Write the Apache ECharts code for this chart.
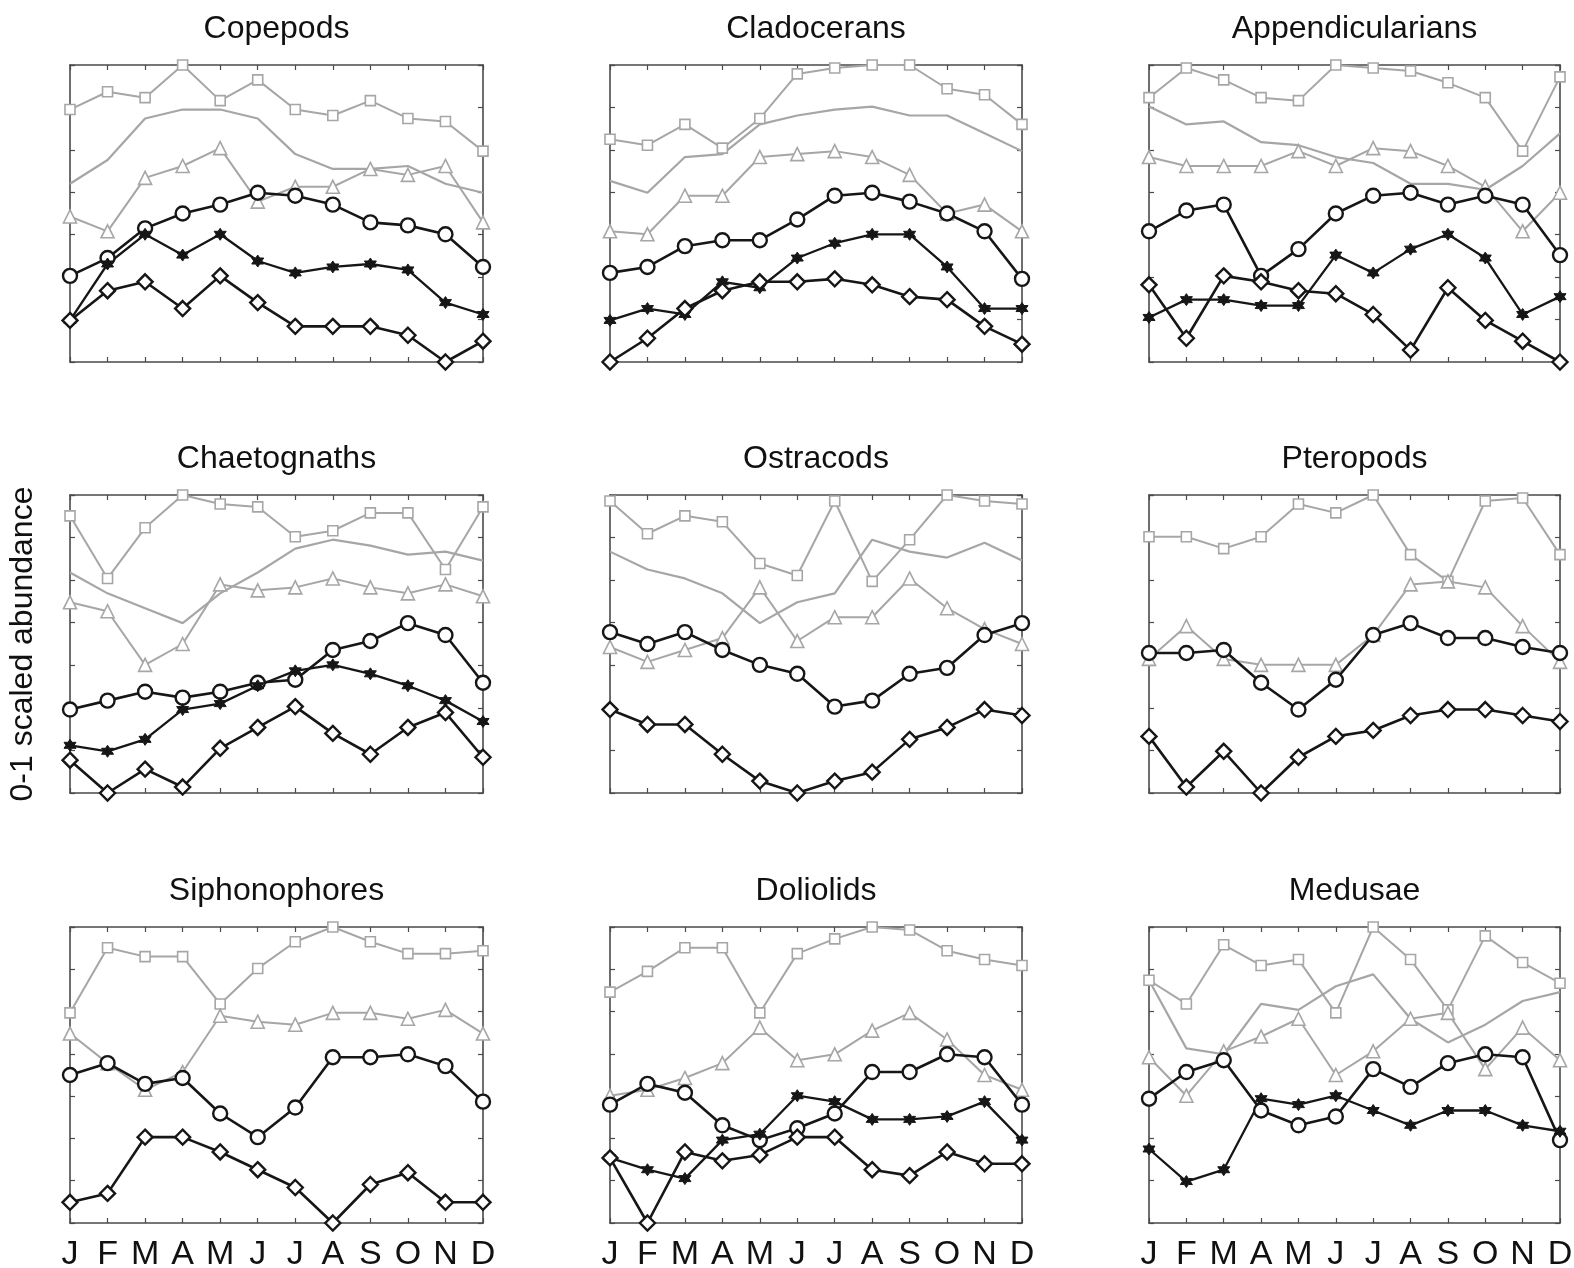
<!DOCTYPE html>
<html>
<head>
<meta charset="utf-8">
<title>Seasonal cycles of zooplankton groups</title>
<script src="https://cdn.jsdelivr.net/npm/echarts@6/dist/echarts.min.js"></script>
<style>
  html, body { margin: 0; padding: 0; background: #fff; }
  #chart { width: 1574px; height: 1268px; }
</style>
</head>
<body>
<div id="chart"></div>
<script>
// Month tick labels
const months = ['J', 'F', 'M', 'A', 'M', 'J', 'J', 'A', 'S', 'O', 'N', 'D'];

// Panel titles, row by row
const groups = ['Copepods', 'Cladocerans', 'Appendicularians',
                'Chaetognaths', 'Ostracods', 'Pteropods',
                'Siphonophores', 'Doliolids', 'Medusae'];

// 0-1 scaled monthly abundance per group and station
// sq = grey squares, tri = grey triangles, ln = grey line,
// ci = black circles, st = black stars, di = black diamonds
const copepodsSq  = [0.85, 0.91, 0.89, 1.00, 0.88, 0.95, 0.85, 0.83, 0.88, 0.82, 0.81, 0.71];
const copepodsLn  = [0.60, 0.68, 0.82, 0.85, 0.85, 0.82, 0.70, 0.65, 0.65, 0.66, 0.60, 0.57];
const copepodsTri = [0.49, 0.44, 0.62, 0.66, 0.72, 0.54, 0.59, 0.59, 0.65, 0.63, 0.66, 0.47];
const copepodsCi  = [0.29, 0.35, 0.45, 0.50, 0.53, 0.57, 0.56, 0.53, 0.47, 0.46, 0.43, 0.32];
const copepodsSt  = [0.14, 0.33, 0.43, 0.36, 0.43, 0.34, 0.30, 0.32, 0.33, 0.31, 0.20, 0.16];
const copepodsDi  = [0.14, 0.24, 0.27, 0.18, 0.29, 0.20, 0.12, 0.12, 0.12, 0.09, 0.00, 0.07];

const cladoSq  = [0.75, 0.73, 0.80, 0.72, 0.82, 0.97, 0.99, 1.00, 1.00, 0.92, 0.90, 0.80];
const cladoLn  = [0.61, 0.57, 0.69, 0.70, 0.80, 0.83, 0.85, 0.86, 0.83, 0.83, 0.77, 0.71];
const cladoTri = [0.44, 0.43, 0.56, 0.56, 0.69, 0.70, 0.71, 0.69, 0.63, 0.50, 0.53, 0.44];
const cladoCi  = [0.30, 0.32, 0.39, 0.41, 0.41, 0.48, 0.56, 0.57, 0.54, 0.50, 0.44, 0.28];
const cladoSt  = [0.14, 0.18, 0.16, 0.27, 0.25, 0.35, 0.40, 0.43, 0.43, 0.32, 0.18, 0.18];
const cladoDi  = [0.00, 0.08, 0.18, 0.24, 0.27, 0.27, 0.28, 0.26, 0.22, 0.21, 0.12, 0.06];

const appendSq  = [0.89, 0.99, 0.95, 0.89, 0.88, 1.00, 0.99, 0.98, 0.94, 0.89, 0.71, 0.96];
const appendLn  = [0.86, 0.80, 0.81, 0.74, 0.73, 0.69, 0.67, 0.60, 0.60, 0.58, 0.66, 0.77];
const appendTri = [0.69, 0.66, 0.66, 0.66, 0.71, 0.66, 0.72, 0.71, 0.66, 0.59, 0.44, 0.57];
const appendCi  = [0.44, 0.51, 0.53, 0.29, 0.38, 0.50, 0.56, 0.57, 0.53, 0.56, 0.53, 0.36];
const appendSt  = [0.15, 0.21, 0.21, 0.19, 0.19, 0.36, 0.30, 0.38, 0.43, 0.35, 0.16, 0.22];
const appendDi  = [0.26, 0.08, 0.29, 0.27, 0.24, 0.23, 0.16, 0.04, 0.25, 0.14, 0.07, 0.00];

const chaetoSq  = [0.93, 0.72, 0.89, 1.00, 0.97, 0.96, 0.86, 0.88, 0.94, 0.94, 0.75, 0.96];
const chaetoLn  = [0.74, 0.67, 0.62, 0.57, 0.67, 0.74, 0.82, 0.85, 0.83, 0.80, 0.81, 0.78];
const chaetoTri = [0.64, 0.61, 0.43, 0.50, 0.70, 0.68, 0.69, 0.72, 0.69, 0.67, 0.70, 0.66];
const chaetoCi  = [0.28, 0.31, 0.34, 0.32, 0.34, 0.37, 0.38, 0.48, 0.51, 0.57, 0.53, 0.37];
const chaetoSt  = [0.16, 0.14, 0.18, 0.28, 0.30, 0.36, 0.41, 0.43, 0.40, 0.36, 0.31, 0.24];
const chaetoDi  = [0.11, 0.00, 0.08, 0.02, 0.15, 0.22, 0.29, 0.20, 0.13, 0.22, 0.27, 0.12];

const ostraSq  = [0.98, 0.87, 0.93, 0.91, 0.77, 0.73, 0.98, 0.71, 0.85, 1.00, 0.98, 0.97];
const ostraLn  = [0.81, 0.75, 0.72, 0.67, 0.57, 0.64, 0.67, 0.85, 0.81, 0.79, 0.84, 0.78];
const ostraTri = [0.49, 0.44, 0.48, 0.52, 0.69, 0.51, 0.59, 0.59, 0.72, 0.62, 0.55, 0.50];
const ostraCi  = [0.54, 0.50, 0.54, 0.48, 0.43, 0.40, 0.29, 0.31, 0.40, 0.42, 0.53, 0.57];
const ostraDi  = [0.28, 0.23, 0.23, 0.13, 0.04, 0.00, 0.04, 0.07, 0.18, 0.22, 0.28, 0.26];

const pteroSq  = [0.86, 0.86, 0.82, 0.86, 0.97, 0.94, 1.00, 0.80, 0.71, 0.98, 0.99, 0.80];
const pteroTri = [0.45, 0.56, 0.45, 0.43, 0.43, 0.43, 0.53, 0.70, 0.71, 0.69, 0.56, 0.44];
const pteroCi  = [0.47, 0.47, 0.48, 0.37, 0.28, 0.38, 0.53, 0.57, 0.52, 0.52, 0.49, 0.47];
const pteroDi  = [0.19, 0.02, 0.14, 0.00, 0.12, 0.19, 0.21, 0.26, 0.28, 0.28, 0.26, 0.24];

const siphoSq  = [0.71, 0.93, 0.90, 0.90, 0.74, 0.86, 0.95, 1.00, 0.95, 0.91, 0.91, 0.92];
const siphoTri = [0.64, 0.54, 0.45, 0.51, 0.70, 0.68, 0.67, 0.71, 0.71, 0.69, 0.72, 0.64];
const siphoCi  = [0.50, 0.54, 0.47, 0.49, 0.37, 0.29, 0.39, 0.56, 0.56, 0.57, 0.53, 0.41];
const siphoDi  = [0.07, 0.10, 0.29, 0.29, 0.24, 0.18, 0.12, 0.00, 0.13, 0.17, 0.07, 0.07];

const dolioSq  = [0.78, 0.85, 0.93, 0.93, 0.71, 0.91, 0.96, 1.00, 0.99, 0.92, 0.89, 0.87];
const dolioTri = [0.43, 0.45, 0.49, 0.54, 0.66, 0.55, 0.57, 0.65, 0.71, 0.62, 0.50, 0.45];
const dolioCi  = [0.40, 0.47, 0.44, 0.33, 0.28, 0.32, 0.37, 0.51, 0.51, 0.57, 0.56, 0.40];
const dolioSt  = [0.22, 0.18, 0.15, 0.28, 0.30, 0.43, 0.41, 0.35, 0.35, 0.36, 0.41, 0.28];
const dolioDi  = [0.22, 0.00, 0.24, 0.21, 0.23, 0.29, 0.29, 0.18, 0.16, 0.24, 0.20, 0.20];

const medusSq  = [0.82, 0.74, 0.94, 0.87, 0.89, 0.71, 1.00, 0.89, 0.72, 0.97, 0.88, 0.81];
const medusLn  = [0.82, 0.59, 0.57, 0.74, 0.72, 0.80, 0.84, 0.69, 0.61, 0.67, 0.75, 0.78];
const medusTri = [0.56, 0.43, 0.58, 0.63, 0.69, 0.50, 0.58, 0.69, 0.71, 0.52, 0.66, 0.55];
const medusCi  = [0.42, 0.51, 0.55, 0.38, 0.33, 0.36, 0.52, 0.46, 0.54, 0.57, 0.56, 0.28];
const medusSt  = [0.25, 0.14, 0.18, 0.42, 0.40, 0.43, 0.38, 0.33, 0.38, 0.38, 0.33, 0.31];

// Series per panel, in drawing order (grey behind, black on top)
const panelSeries = [
  { sq: copepodsSq, ln: copepodsLn, tri: copepodsTri, ci: copepodsCi, st: copepodsSt, di: copepodsDi },
  { sq: cladoSq, ln: cladoLn, tri: cladoTri, ci: cladoCi, st: cladoSt, di: cladoDi },
  { sq: appendSq, ln: appendLn, tri: appendTri, ci: appendCi, st: appendSt, di: appendDi },
  { sq: chaetoSq, ln: chaetoLn, tri: chaetoTri, ci: chaetoCi, st: chaetoSt, di: chaetoDi },
  { sq: ostraSq, ln: ostraLn, tri: ostraTri, ci: ostraCi, di: ostraDi },
  { sq: pteroSq, tri: pteroTri, ci: pteroCi, di: pteroDi },
  { sq: siphoSq, tri: siphoTri, ci: siphoCi, di: siphoDi },
  { sq: dolioSq, tri: dolioTri, ci: dolioCi, st: dolioSt, di: dolioDi },
  { sq: medusSq, ln: medusLn, tri: medusTri, ci: medusCi, st: medusSt }
];

const FONT = '"Liberation Sans", Arial, Helvetica, sans-serif';
const GREY = '#a6a6a6';
const BLACK = '#161616';
const FRAME = '#4a4a4a';
const STAR = 'path://M0,-10L2.89,-5L8.66,-5L5.77,0L8.66,5L2.89,5L0,10L-2.89,5L-8.66,5L-5.77,0L-8.66,-5L-2.89,-5Z';

// Panel placement
const colLeft = [70, 610, 1149];
const colWidth = [413, 412, 411];
const rowTop = [65, 495, 927];
const rowHeight = [297, 298, 296];

// Marker/line styling for each series kind
const styles = {
  sq:  { symbol: 'rect', size: 10, line: GREY, width: 2, fill: '#fff', border: GREY, bw: 1.6 },
  ln:  { symbol: 'none', size: 0, line: GREY, width: 2.2 },
  tri: { symbol: 'triangle', size: 13, line: GREY, width: 2, fill: '#fff', border: GREY, bw: 1.6 },
  ci:  { symbol: 'circle', size: 14, line: BLACK, width: 2.6, fill: '#fff', border: BLACK, bw: 2.4 },
  st:  { symbol: STAR, size: 12, line: BLACK, width: 2.3, fill: BLACK, border: BLACK, bw: 1 },
  di:  { symbol: 'diamond', size: 15, line: BLACK, width: 2.6, fill: '#fff', border: BLACK, bw: 2.4 }
};
const order = ['sq', 'tri', 'ln', 'ci', 'st', 'di'];

const grid = [], xAxis = [], yAxis = [], series = [], graphic = [];

groups.forEach((name, i) => {
  const r = Math.floor(i / 3), c = i % 3;
  const left = colLeft[c], top = rowTop[r], w = colWidth[c], h = rowHeight[r];
  // fixed placement: keep the plot box where it is even if labels reach the edge
  grid.push({ left: left, top: top, width: w, height: h, containLabel: false, outerBoundsMode: 'none' });

  const tick = { show: true, inside: true, length: 5, lineStyle: { color: FRAME, width: 1.2 } };
  const line = { show: true, onZero: false, lineStyle: { color: FRAME, width: 1.6 } };

  xAxis.push({
    gridIndex: i, type: 'category', data: months, boundaryGap: false, position: 'bottom',
    axisLine: line, axisTick: tick, splitLine: { show: false },
    axisLabel: { show: r === 2, interval: 0, fontSize: 34, color: '#111', fontFamily: FONT, margin: 15 }
  });
  xAxis.push({
    gridIndex: i, type: 'category', data: months, boundaryGap: false, position: 'top',
    axisLine: line, axisTick: tick, axisLabel: { show: false }, splitLine: { show: false }
  });
  const yBase = {
    gridIndex: i, type: 'value', min: 0, max: 1, interval: 1 / 7,
    axisLine: line, axisTick: tick, axisLabel: { show: false }, splitLine: { show: false }
  };
  yAxis.push(Object.assign({ position: 'left' }, yBase));
  yAxis.push(Object.assign({ position: 'right' }, yBase));

  const set = panelSeries[i];
  order.forEach(key => {
    if (!set[key]) return;
    const s = styles[key];
    series.push({
      name: name + ' ' + key,
      type: 'line',
      xAxisIndex: 2 * i,
      yAxisIndex: 2 * i,
      data: set[key],
      symbol: s.symbol,
      symbolSize: s.size,
      showSymbol: s.symbol !== 'none',
      clip: false,
      lineStyle: { color: s.line, width: s.width },
      itemStyle: { color: s.fill || s.line, borderColor: s.border || s.line, borderWidth: s.bw || 0 },
      emphasis: { disabled: true },
      z: key === 'sq' || key === 'tri' || key === 'ln' ? 2 : 3
    });
  });

  graphic.push({
    type: 'text',
    x: left + w / 2,
    y: top - 36,
    style: { text: name, fill: '#111', font: '32px ' + FONT, align: 'center', verticalAlign: 'middle' }
  });
});

graphic.push({
  type: 'text',
  x: 23,
  y: 644,
  rotation: Math.PI / 2,
  style: { text: '0-1 scaled abundance', fill: '#111', font: '32px ' + FONT, align: 'center', verticalAlign: 'middle' }
});

const chart = echarts.init(document.getElementById('chart'), null, { renderer: 'canvas' });
chart.setOption({
  animation: false,
  backgroundColor: '#fff',
  grid: grid,
  xAxis: xAxis,
  yAxis: yAxis,
  series: series,
  graphic: graphic
});
</script>
</body>
</html>
